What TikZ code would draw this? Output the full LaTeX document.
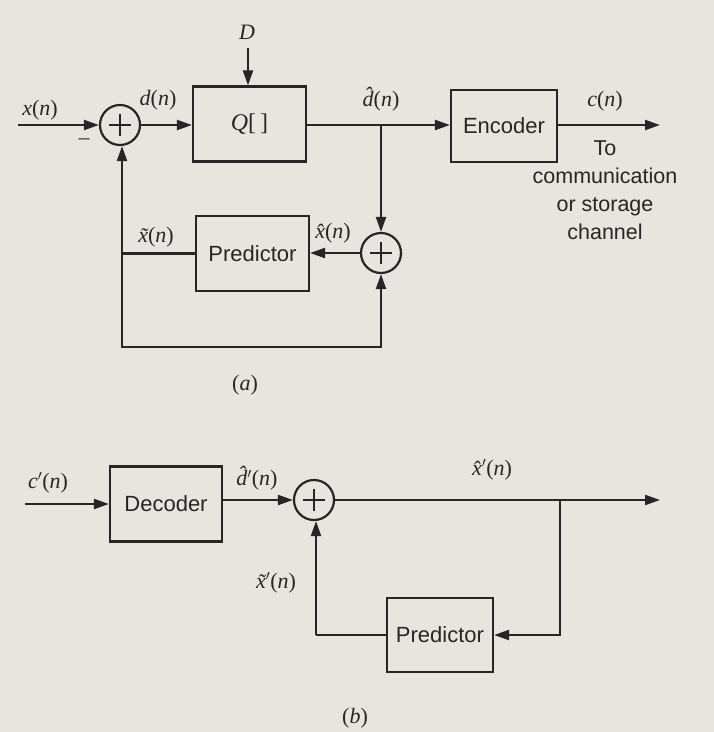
\documentclass[tikz,border=0pt]{standalone}
\usepackage{fontspec}
\setmainfont{Liberation Serif}
\setsansfont{Liberation Sans}
\usetikzlibrary{arrows.meta,calc}
\definecolor{bg}{RGB}{231,229,222}
\definecolor{ink}{RGB}{38,38,38}
\newcommand{\pr}{$'$}
\begin{document}
\begin{tikzpicture}[x=1pt,y=-1pt,
  line width=2.2pt, draw=ink, color=ink,
  >={Triangle[length=15pt,width=10pt]},
  blockbox/.style={draw=ink, line width=2.2pt, fill=none, inner sep=0pt,
     font=\sffamily\fontsize{22}{25}\selectfont, text=ink},
  sumnode/.style={circle, draw=ink, line width=2.2pt, minimum size=40pt, inner sep=0pt,
     path picture={\draw[ink,line width=1.9pt]
        ($(path picture bounding box.center)+(-11pt,0pt)$) -- ($(path picture bounding box.center)+(11pt,0pt)$)
        ($(path picture bounding box.center)+(0pt,-11pt)$) -- ($(path picture bounding box.center)+(0pt,11pt)$);}},
  lab/.style={font=\fontsize{22}{25}\selectfont, text=ink, inner sep=1pt},
  note/.style={font=\sffamily\fontsize{21.5}{28}\selectfont, text=ink, align=center, inner sep=0pt}
]
\fill[bg] (0,0) rectangle (714,732);
\useasboundingbox (0,0) rectangle (714,732);

% ---------- (a) ----------
\node[sumnode] (s1) at (120,125) {};
\node[blockbox, minimum width=113pt, minimum height=75pt] (q) at (249.5,124) {\rmfamily\fontsize{24}{26}\selectfont\itshape Q\upshape[\,]};
\node[blockbox, minimum width=106pt, minimum height=72pt] (enc) at (504,126) {Encoder};
\node[sumnode] (s2) at (381,253) {};
\node[blockbox, minimum width=113pt, minimum height=75pt] (pa) at (252.5,253.5) {Predictor};

\coordinate (in1) at (18,125);
\coordinate (dtop) at (248,48);
\coordinate (b1) at (381,125);
\coordinate (out1) at (660,125);
\coordinate (j1) at (122,253.5);
\coordinate (c1) at (122,347);
\coordinate (c2) at (381,347);

\draw[->] (in1) -- (s1.west);
\draw[->] (s1.east) -- (q.west |- s1.east);
\draw[->] (dtop) -- (q.north -| dtop);
\draw (q.east |- b1) -- (b1);
\draw[->] (b1) -- (enc.west |- b1);
\draw[->] (b1) -- (s2.north);
\draw[->] (enc.east |- out1) -- (out1);
\draw[->] (s2.west) -- (pa.east |- s2.west);
\draw (pa.west) -- (j1);
\draw[->] (j1) -- (s1.south -| j1);
\draw[->] (j1) -- (c1) -- (c2) -- (s2.south);

\node[lab] (lx) at (40,110) {\textit{x}(\textit{n})};
\node[lab] (lminus) at (84,142) {\textendash};
\node[lab] (ld) at (158,100) {\textit{d}(\textit{n})};
\node[lab] (lD) at (247,32) {\textit{D}};
\node[lab] (ldh) at (381,99) {{\itshape\^d}(\textit{n})};
\node[lab] (lc) at (605,101) {\textit{c}(\textit{n})};
\node[note, anchor=north] (lto) at (605,140) {To\\communication\\or storage\\channel};
\node[lab] (lxt) at (156,237) {{\itshape\~x}(\textit{n})};
\node[lab] (lxh) at (333,233) {{\itshape\^x}(\textit{n})};
\node[lab] (la) at (245,385) {(\textit{a})};

% ---------- (b) ----------
\node[blockbox, minimum width=112pt, minimum height=75pt] (dec) at (166,504) {Decoder};
\node[sumnode] (s3) at (314,500) {};
\node[blockbox, minimum width=106pt, minimum height=74pt] (pb) at (440,635) {Predictor};

\coordinate (in2) at (25,504);
\coordinate (b2) at (560,500);
\coordinate (out2) at (660,500);
\coordinate (c3) at (560,635);
\coordinate (c4) at (316,635);

\draw[->] (in2) -- (dec.west);
\draw[->] (dec.east |- s3.west) -- (s3.west);
\draw (s3.east) -- (b2);
\draw[->] (b2) -- (out2);
\draw[->] (b2) -- (c3) -- (pb.east);
\draw (pb.west) -- (c4);
\draw[->] (c4) -- (s3.south -| c4);

\node[lab] (lcp) at (48,483) {\textit{c}\pr(\textit{n})};
\node[lab] (ldhp) at (257,478) {{\itshape\^d}\pr(\textit{n})};
\node[lab] (lxhp) at (492,470) {{\itshape\^x}\pr(\textit{n})};
\node[lab] (lxtp) at (276,583) {{\itshape\~x}\pr(\textit{n})};
\node[lab] (lb) at (355,718) {(\textit{b})};
\end{tikzpicture}
\end{document}
